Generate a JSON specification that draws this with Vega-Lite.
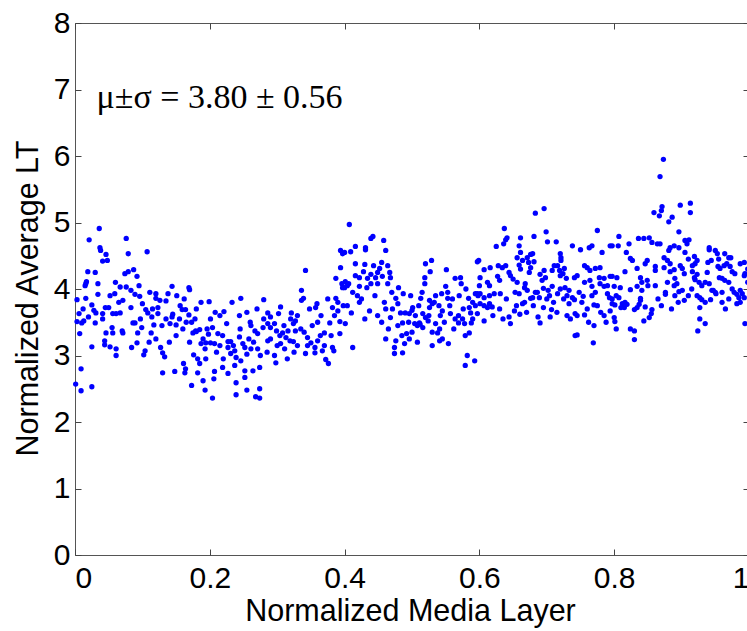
{
"$schema": "https://vega.github.io/schema/vega-lite/v6.json",
"width": 674, "height": 532,
"autosize": {"type": "none"},
"padding": {"left": 75, "top": 23, "right": 0, "bottom": 76},
"background": "white",
"config": {
  "view": {"stroke": "#555", "strokeWidth": 1},
  "axis": {"grid": false, "domain": false, "tickColor": "#444", "tickSize": -6, "tickWidth": 1,
           "labelFont": "Liberation Sans", "labelFontSize": 30, "labelColor": "#000",
           "titleFont": "Liberation Sans", "titleFontSize": 30.5, "titleColor": "#000", "titleFontWeight": "normal"}
},
"data": {"values": [
{"x":0.036,"y":4.91},{"x":0.021,"y":4.74},{"x":0.037,"y":4.62},{"x":0.038,"y":4.58},{"x":0.046,"y":4.52},{"x":0.041,"y":4.42},{"x":0.048,"y":4.43},{"x":0.076,"y":4.76},{"x":0.079,"y":4.53},{"x":0.107,"y":4.56},
{"x":0.019,"y":4.26},{"x":0.03,"y":4.25},{"x":0.016,"y":4.08},{"x":0.017,"y":4.11},{"x":0.015,"y":4.05},{"x":0.034,"y":4.08},{"x":0.074,"y":4.23},{"x":0.079,"y":4.26},{"x":0.087,"y":4.29},{"x":0.092,"y":4.19},
{"x":0.095,"y":4.05},{"x":0.067,"y":4.03},{"x":0.076,"y":4.03},{"x":0.034,"y":3.92},{"x":0.052,"y":3.9},{"x":0.059,"y":3.93},{"x":0.003,"y":3.84},{"x":0.016,"y":3.86},{"x":0.071,"y":3.83},{"x":0.083,"y":3.98},
{"x":0.089,"y":3.92},{"x":0.096,"y":3.89},{"x":0.111,"y":3.95},{"x":0.12,"y":3.93},{"x":0.12,"y":3.86},{"x":0.126,"y":3.83},{"x":0.138,"y":3.93},{"x":0.144,"y":4.04},{"x":0.151,"y":3.9},{"x":0.169,"y":4.02},
{"x":0.17,"y":3.99},{"x":0.187,"y":3.8},{"x":0.025,"y":3.76},{"x":0.006,"y":3.63},{"x":0.007,"y":3.33},{"x":0.003,"y":3.51},{"x":0.01,"y":3.49},{"x":0.013,"y":3.52},{"x":0.031,"y":3.64},{"x":0.03,"y":3.49},
{"x":0.041,"y":3.63},{"x":0.041,"y":3.55},{"x":0.05,"y":3.72},{"x":0.056,"y":3.63},{"x":0.061,"y":3.63},{"x":0.067,"y":3.64},{"x":0.083,"y":3.72},{"x":0.086,"y":3.49},{"x":0.089,"y":3.49},{"x":0.105,"y":3.69},
{"x":0.108,"y":3.64},{"x":0.114,"y":3.58},{"x":0.123,"y":3.72},{"x":0.123,"y":3.63},{"x":0.117,"y":3.46},{"x":0.129,"y":3.45},{"x":0.141,"y":3.48},{"x":0.144,"y":3.58},{"x":0.15,"y":3.46},{"x":0.156,"y":3.75},
{"x":0.159,"y":3.69},{"x":0.164,"y":3.69},{"x":0.169,"y":3.61},{"x":0.175,"y":3.34},{"x":0.179,"y":3.37},{"x":0.185,"y":3.39},{"x":0.187,"y":3.18},{"x":0.194,"y":3.19},{"x":0.193,"y":3.1},{"x":0.046,"y":3.34},
{"x":0.044,"y":3.22},{"x":0.044,"y":3.16},{"x":0.055,"y":3.42},{"x":0.056,"y":3.34},{"x":0.07,"y":3.37},{"x":0.071,"y":3.34},{"x":0.093,"y":3.34},{"x":0.099,"y":3.42},{"x":0.113,"y":3.34},{"x":0.127,"y":3.12},
{"x":0.13,"y":3.04},{"x":0.133,"y":2.98},{"x":0.104,"y":3.07},{"x":0.102,"y":3.01},{"x":0.092,"y":3.19},{"x":0.084,"y":3.12},{"x":0.052,"y":3.13},{"x":0.061,"y":3.1},{"x":0.061,"y":3.0},{"x":0.025,"y":3.13},
{"x":0.009,"y":2.8},{"x":0.001,"y":2.57},{"x":0.009,"y":2.47},{"x":0.025,"y":2.53},{"x":0.13,"y":2.74},{"x":0.148,"y":2.76},{"x":0.161,"y":2.88},{"x":0.164,"y":2.8},{"x":0.163,"y":2.74},{"x":0.176,"y":3.01},
{"x":0.182,"y":2.95},{"x":0.185,"y":2.88},{"x":0.173,"y":2.55},{"x":0.182,"y":2.74},{"x":0.193,"y":2.48},{"x":0.19,"y":2.62},{"x":0.194,"y":2.95},{"x":0.173,"y":3.5},{"x":0.18,"y":3.36},{"x":0.19,"y":3.25},
{"x":0.135,"y":3.55},{"x":0.145,"y":3.62},{"x":0.155,"y":3.55},{"x":0.165,"y":3.5},{"x":0.178,"y":3.55},{"x":0.16,"y":3.4},{"x":0.15,"y":3.3},{"x":0.14,"y":3.2},{"x":0.17,"y":3.2},{"x":0.196,"y":3.4},
{"x":0.198,"y":3.32},{"x":0.12,"y":3.25},{"x":0.11,"y":3.2},{"x":0.097,"y":3.55},{"x":0.065,"y":3.8},{"x":0.045,"y":3.72},{"x":0.02,"y":3.58},{"x":0.028,"y":3.68},{"x":0.012,"y":3.7},{"x":0.06,"y":4.1},
{"x":0.1,"y":3.78},{"x":0.115,"y":3.7},{"x":0.135,"y":3.82},{"x":0.162,"y":3.85},{"x":0.18,"y":3.7},
{"x":0.394,"y":4.58},{"x":0.397,"y":4.53},{"x":0.342,"y":4.28},{"x":0.394,"y":4.32},{"x":0.387,"y":4.16},{"x":0.396,"y":4.08},{"x":0.397,"y":4.02},{"x":0.336,"y":3.98},{"x":0.336,"y":3.83},{"x":0.339,"y":3.86},
{"x":0.387,"y":3.86},{"x":0.39,"y":3.8},{"x":0.382,"y":3.72},{"x":0.39,"y":3.67},{"x":0.359,"y":3.78},{"x":0.357,"y":3.72},{"x":0.348,"y":3.7},{"x":0.33,"y":3.6},{"x":0.327,"y":3.52},{"x":0.324,"y":3.48},
{"x":0.246,"y":3.86},{"x":0.233,"y":3.8},{"x":0.28,"y":3.84},{"x":0.199,"y":3.81},{"x":0.215,"y":3.6},{"x":0.221,"y":3.66},{"x":0.244,"y":3.6},{"x":0.286,"y":3.64},{"x":0.29,"y":3.58},{"x":0.302,"y":3.63},
{"x":0.305,"y":3.73},{"x":0.321,"y":3.64},{"x":0.201,"y":3.55},{"x":0.261,"y":3.45},{"x":0.28,"y":3.55},{"x":0.204,"y":3.42},{"x":0.212,"y":3.33},{"x":0.219,"y":3.3},{"x":0.227,"y":3.21},{"x":0.231,"y":3.21},
{"x":0.201,"y":3.19},{"x":0.207,"y":3.18},{"x":0.215,"y":3.15},{"x":0.244,"y":3.28},{"x":0.249,"y":3.18},{"x":0.258,"y":3.25},{"x":0.267,"y":3.37},{"x":0.271,"y":3.33},{"x":0.279,"y":3.42},{"x":0.286,"y":3.48},
{"x":0.29,"y":3.42},{"x":0.296,"y":3.48},{"x":0.299,"y":3.37},{"x":0.304,"y":3.3},{"x":0.308,"y":3.34},{"x":0.316,"y":3.37},{"x":0.313,"y":3.27},{"x":0.319,"y":3.22},{"x":0.324,"y":3.21},{"x":0.327,"y":3.37},
{"x":0.286,"y":3.22},{"x":0.29,"y":3.25},{"x":0.305,"y":3.18},{"x":0.311,"y":3.1},{"x":0.345,"y":3.27},{"x":0.345,"y":3.15},{"x":0.35,"y":3.19},{"x":0.356,"y":3.12},{"x":0.356,"y":3.04},{"x":0.342,"y":3.03},
{"x":0.364,"y":3.3},{"x":0.367,"y":3.07},{"x":0.37,"y":3.34},{"x":0.378,"y":3.49},{"x":0.382,"y":3.12},{"x":0.384,"y":3.07},{"x":0.372,"y":2.94},{"x":0.376,"y":2.88},{"x":0.393,"y":3.51},{"x":0.393,"y":3.33},
{"x":0.227,"y":3.12},{"x":0.231,"y":3.03},{"x":0.237,"y":3.07},{"x":0.239,"y":2.97},{"x":0.246,"y":2.92},{"x":0.252,"y":3.12},{"x":0.261,"y":3.1},{"x":0.271,"y":3.1},{"x":0.296,"y":3.0},{"x":0.298,"y":2.89},
{"x":0.207,"y":2.76},{"x":0.206,"y":2.65},{"x":0.219,"y":2.82},{"x":0.227,"y":2.73},{"x":0.237,"y":2.85},{"x":0.252,"y":2.77},{"x":0.252,"y":2.67},{"x":0.264,"y":2.77},{"x":0.274,"y":2.82},{"x":0.239,"y":2.59},
{"x":0.255,"y":2.48},{"x":0.274,"y":2.5},{"x":0.204,"y":2.36},{"x":0.239,"y":2.41},{"x":0.268,"y":2.38},{"x":0.274,"y":2.36},
{"x":0.21,"y":3.05},{"x":0.22,"y":2.95},{"x":0.235,"y":3.15},{"x":0.255,"y":3.02},{"x":0.265,"y":3.2},{"x":0.275,"y":3.0},{"x":0.285,"y":3.05},{"x":0.3,"y":3.15},{"x":0.31,"y":3.45},{"x":0.32,"y":3.55},
{"x":0.335,"y":3.4},{"x":0.34,"y":3.35},{"x":0.352,"y":3.45},{"x":0.36,"y":3.5},{"x":0.365,"y":3.6},{"x":0.375,"y":3.85},{"x":0.385,"y":3.6},{"x":0.398,"y":3.75},{"x":0.33,"y":3.15},{"x":0.315,"y":2.95},
{"x":0.325,"y":3.05},{"x":0.36,"y":3.22},{"x":0.37,"y":3.15},{"x":0.38,"y":3.3},{"x":0.26,"y":3.5},{"x":0.245,"y":3.4},{"x":0.225,"y":3.48},{"x":0.208,"y":3.65},{"x":0.255,"y":3.65},{"x":0.27,"y":3.7},
{"x":0.407,"y":4.97},{"x":0.439,"y":4.76},{"x":0.442,"y":4.79},{"x":0.458,"y":4.73},{"x":0.416,"y":4.64},{"x":0.431,"y":4.62},{"x":0.431,"y":4.59},{"x":0.461,"y":4.58},{"x":0.4,"y":4.55},{"x":0.409,"y":4.56},
{"x":0.416,"y":4.38},{"x":0.43,"y":4.37},{"x":0.443,"y":4.35},{"x":0.455,"y":4.4},{"x":0.464,"y":4.35},{"x":0.428,"y":4.26},{"x":0.439,"y":4.22},{"x":0.449,"y":4.25},{"x":0.452,"y":4.31},{"x":0.467,"y":4.25},
{"x":0.468,"y":4.17},{"x":0.416,"y":4.2},{"x":0.422,"y":4.17},{"x":0.434,"y":4.16},{"x":0.446,"y":4.17},{"x":0.456,"y":4.19},{"x":0.401,"y":4.11},{"x":0.404,"y":4.05},{"x":0.4,"y":4.02},{"x":0.406,"y":4.08},
{"x":0.422,"y":4.04},{"x":0.433,"y":4.02},{"x":0.439,"y":4.08},{"x":0.449,"y":4.08},{"x":0.464,"y":4.08},{"x":0.412,"y":3.95},{"x":0.419,"y":3.9},{"x":0.422,"y":3.8},{"x":0.404,"y":3.75},{"x":0.41,"y":3.64},
{"x":0.401,"y":3.48},{"x":0.437,"y":3.67},{"x":0.449,"y":3.6},{"x":0.459,"y":3.8},{"x":0.461,"y":3.7},{"x":0.471,"y":3.7},{"x":0.479,"y":3.78},{"x":0.48,"y":4.02},{"x":0.487,"y":3.93},{"x":0.476,"y":3.86},
{"x":0.468,"y":3.57},{"x":0.479,"y":3.45},{"x":0.486,"y":3.49},{"x":0.483,"y":3.64},{"x":0.49,"y":3.64},{"x":0.496,"y":3.63},{"x":0.501,"y":3.72},{"x":0.498,"y":3.9},{"x":0.504,"y":3.48},{"x":0.508,"y":3.45},
{"x":0.511,"y":3.49},{"x":0.513,"y":3.86},{"x":0.492,"y":3.33},{"x":0.496,"y":3.25},{"x":0.508,"y":3.2},{"x":0.5,"y":3.68},{"x":0.516,"y":3.63},{"x":0.52,"y":3.57},{"x":0.526,"y":3.72},{"x":0.526,"y":3.83},
{"x":0.53,"y":3.78},{"x":0.533,"y":3.8},{"x":0.519,"y":4.08},{"x":0.52,"y":4.38},{"x":0.529,"y":4.43},{"x":0.527,"y":4.26},{"x":0.519,"y":4.17},{"x":0.512,"y":3.47},{"x":0.516,"y":3.42},{"x":0.524,"y":3.52},
{"x":0.535,"y":3.48},{"x":0.541,"y":3.4},{"x":0.538,"y":3.34},{"x":0.461,"y":3.25},{"x":0.476,"y":3.22},{"x":0.474,"y":3.12},{"x":0.474,"y":3.03},{"x":0.486,"y":3.04},{"x":0.489,"y":3.18},{"x":0.412,"y":3.12},
{"x":0.541,"y":3.22},{"x":0.554,"y":3.18},{"x":0.542,"y":3.6},{"x":0.545,"y":3.67},{"x":0.544,"y":3.93},{"x":0.55,"y":4.04},{"x":0.551,"y":4.29},{"x":0.553,"y":3.95},{"x":0.553,"y":3.86},{"x":0.564,"y":4.16},
{"x":0.569,"y":3.6},{"x":0.572,"y":4.17},{"x":0.573,"y":4.08},{"x":0.557,"y":3.63},{"x":0.564,"y":3.55},{"x":0.569,"y":3.49},{"x":0.575,"y":3.55},{"x":0.578,"y":3.48},{"x":0.584,"y":3.86},{"x":0.585,"y":3.72},
{"x":0.587,"y":3.64},{"x":0.588,"y":3.49},{"x":0.585,"y":3.34},{"x":0.579,"y":3.3},{"x":0.582,"y":3.0},{"x":0.593,"y":2.92},{"x":0.579,"y":2.85},{"x":0.597,"y":4.41},{"x":0.594,"y":3.93},{"x":0.594,"y":3.75},
{"x":0.597,"y":3.63},{"x":0.425,"y":3.85},{"x":0.43,"y":3.55},{"x":0.445,"y":3.9},{"x":0.455,"y":3.5},{"x":0.465,"y":3.4},{"x":0.47,"y":3.95},{"x":0.485,"y":3.3},{"x":0.495,"y":3.5},{"x":0.505,"y":3.6},
{"x":0.51,"y":3.75},{"x":0.515,"y":3.95},{"x":0.525,"y":3.6},{"x":0.53,"y":3.35},{"x":0.535,"y":3.9},{"x":0.54,"y":3.75},{"x":0.548,"y":3.5},{"x":0.556,"y":3.75},{"x":0.56,"y":3.85},{"x":0.562,"y":3.4},
{"x":0.57,"y":3.9},{"x":0.576,"y":3.7},{"x":0.58,"y":4.0},{"x":0.59,"y":3.8},{"x":0.598,"y":3.9},{"x":0.59,"y":3.55},{"x":0.545,"y":3.25},{"x":0.53,"y":3.15},{"x":0.5,"y":3.35},
{"x":0.683,"y":5.14},{"x":0.696,"y":5.21},{"x":0.637,"y":4.91},{"x":0.775,"y":4.88},{"x":0.699,"y":4.86},{"x":0.641,"y":4.77},{"x":0.639,"y":4.74},{"x":0.636,"y":4.68},{"x":0.625,"y":4.64},{"x":0.661,"y":4.77},
{"x":0.681,"y":4.79},{"x":0.701,"y":4.71},{"x":0.714,"y":4.71},{"x":0.659,"y":4.65},{"x":0.738,"y":4.65},{"x":0.75,"y":4.59},{"x":0.763,"y":4.62},{"x":0.767,"y":4.65},{"x":0.782,"y":4.55},{"x":0.794,"y":4.65},
{"x":0.661,"y":4.55},{"x":0.656,"y":4.47},{"x":0.664,"y":4.43},{"x":0.676,"y":4.52},{"x":0.671,"y":4.47},{"x":0.679,"y":4.53},{"x":0.72,"y":4.53},{"x":0.721,"y":4.47},{"x":0.721,"y":4.43},{"x":0.673,"y":4.4},
{"x":0.676,"y":4.32},{"x":0.674,"y":4.25},{"x":0.681,"y":4.41},{"x":0.599,"y":4.43},{"x":0.607,"y":4.29},{"x":0.616,"y":4.32},{"x":0.628,"y":4.35},{"x":0.634,"y":4.32},{"x":0.639,"y":4.35},{"x":0.644,"y":4.25},
{"x":0.646,"y":4.2},{"x":0.65,"y":4.15},{"x":0.656,"y":4.1},{"x":0.659,"y":4.36},{"x":0.661,"y":4.3},{"x":0.711,"y":4.35},{"x":0.708,"y":4.28},{"x":0.716,"y":4.35},{"x":0.696,"y":4.28},{"x":0.698,"y":4.17},
{"x":0.693,"y":4.13},{"x":0.69,"y":4.22},{"x":0.719,"y":4.28},{"x":0.724,"y":4.23},{"x":0.726,"y":4.31},{"x":0.729,"y":4.16},{"x":0.72,"y":4.2},{"x":0.741,"y":4.17},{"x":0.745,"y":4.2},{"x":0.756,"y":4.35},
{"x":0.76,"y":4.32},{"x":0.764,"y":4.28},{"x":0.772,"y":4.31},{"x":0.779,"y":4.32},{"x":0.756,"y":4.1},{"x":0.764,"y":4.13},{"x":0.767,"y":4.04},{"x":0.778,"y":4.17},{"x":0.779,"y":4.08},{"x":0.785,"y":4.16},
{"x":0.79,"y":4.05},{"x":0.794,"y":4.19},{"x":0.601,"y":4.17},{"x":0.612,"y":4.1},{"x":0.627,"y":4.19},{"x":0.63,"y":4.13},{"x":0.597,"y":3.93},{"x":0.601,"y":3.93},{"x":0.607,"y":3.87},{"x":0.615,"y":3.9},
{"x":0.622,"y":3.93},{"x":0.631,"y":3.93},{"x":0.601,"y":3.78},{"x":0.607,"y":3.75},{"x":0.615,"y":3.78},{"x":0.619,"y":3.73},{"x":0.612,"y":3.72},{"x":0.607,"y":3.52},{"x":0.644,"y":3.58},{"x":0.646,"y":3.48},
{"x":0.652,"y":3.67},{"x":0.653,"y":3.95},{"x":0.659,"y":3.93},{"x":0.667,"y":4.02},{"x":0.668,"y":4.08},{"x":0.671,"y":3.98},{"x":0.664,"y":3.78},{"x":0.667,"y":3.8},{"x":0.676,"y":3.86},{"x":0.679,"y":3.87},
{"x":0.689,"y":3.87},{"x":0.687,"y":3.58},{"x":0.69,"y":3.49},{"x":0.683,"y":3.95},{"x":0.686,"y":3.95},{"x":0.695,"y":4.01},{"x":0.702,"y":3.98},{"x":0.704,"y":3.9},{"x":0.708,"y":4.04},{"x":0.716,"y":3.93},
{"x":0.707,"y":3.69},{"x":0.705,"y":3.58},{"x":0.727,"y":4.02},{"x":0.733,"y":3.98},{"x":0.73,"y":3.9},{"x":0.733,"y":3.78},{"x":0.738,"y":3.87},{"x":0.741,"y":3.84},{"x":0.73,"y":3.6},{"x":0.742,"y":3.63},
{"x":0.745,"y":3.6},{"x":0.756,"y":3.61},{"x":0.76,"y":3.7},{"x":0.77,"y":3.76},{"x":0.754,"y":3.89},{"x":0.767,"y":3.9},{"x":0.772,"y":3.95},{"x":0.785,"y":4.04},{"x":0.79,"y":3.93},{"x":0.793,"y":3.87},
{"x":0.785,"y":3.6},{"x":0.794,"y":3.67},{"x":0.742,"y":3.3},{"x":0.745,"y":3.31},{"x":0.77,"y":3.45},{"x":0.769,"y":3.19},
{"x":0.62,"y":3.6},{"x":0.63,"y":3.7},{"x":0.64,"y":3.85},{"x":0.655,"y":3.75},{"x":0.67,"y":3.65},{"x":0.68,"y":3.75},{"x":0.695,"y":3.72},{"x":0.7,"y":3.85},{"x":0.71,"y":3.8},{"x":0.715,"y":3.65},
{"x":0.72,"y":4.0},{"x":0.725,"y":3.85},{"x":0.735,"y":3.55},{"x":0.748,"y":3.95},{"x":0.752,"y":3.8},{"x":0.762,"y":3.5},{"x":0.775,"y":3.75},{"x":0.78,"y":3.65},{"x":0.788,"y":3.5},{"x":0.797,"y":3.85},
{"x":0.635,"y":3.55},{"x":0.66,"y":3.62},{"x":0.6,"y":4.05},{"x":0.615,"y":4.05},
{"x":0.873,"y":5.95},{"x":0.868,"y":5.69},{"x":0.871,"y":5.24},{"x":0.87,"y":5.18},{"x":0.859,"y":5.15},{"x":0.867,"y":5.1},{"x":0.898,"y":5.26},{"x":0.913,"y":5.29},{"x":0.913,"y":5.15},{"x":0.886,"y":5.08},
{"x":0.881,"y":5.01},{"x":0.896,"y":4.86},{"x":0.807,"y":4.79},{"x":0.797,"y":4.65},{"x":0.806,"y":4.65},{"x":0.822,"y":4.68},{"x":0.836,"y":4.76},{"x":0.844,"y":4.76},{"x":0.852,"y":4.77},{"x":0.856,"y":4.7},
{"x":0.864,"y":4.68},{"x":0.868,"y":4.68},{"x":0.883,"y":4.62},{"x":0.889,"y":4.65},{"x":0.896,"y":4.62},{"x":0.905,"y":4.73},{"x":0.908,"y":4.68},{"x":0.911,"y":4.74},{"x":0.881,"y":4.58},{"x":0.905,"y":4.55},
{"x":0.919,"y":4.49},{"x":0.941,"y":4.62},{"x":0.941,"y":4.59},{"x":0.95,"y":4.58},{"x":0.953,"y":4.53},{"x":0.964,"y":4.53},{"x":0.97,"y":4.47},{"x":0.973,"y":4.47},{"x":0.818,"y":4.55},{"x":0.824,"y":4.46},
{"x":0.827,"y":4.43},{"x":0.849,"y":4.43},{"x":0.846,"y":4.38},{"x":0.874,"y":4.47},{"x":0.879,"y":4.43},{"x":0.883,"y":4.38},{"x":0.944,"y":4.43},{"x":0.939,"y":4.4},{"x":0.916,"y":4.35},{"x":0.92,"y":4.38},
{"x":0.923,"y":4.43},{"x":0.797,"y":4.19},{"x":0.804,"y":4.17},{"x":0.816,"y":4.26},{"x":0.834,"y":4.31},{"x":0.861,"y":4.34},{"x":0.861,"y":4.28},{"x":0.874,"y":4.32},{"x":0.883,"y":4.26},{"x":0.889,"y":4.29},
{"x":0.898,"y":4.35},{"x":0.901,"y":4.31},{"x":0.904,"y":4.23},{"x":0.916,"y":4.26},{"x":0.919,"y":4.17},{"x":0.92,"y":4.14},{"x":0.923,"y":4.22},{"x":0.938,"y":4.25},{"x":0.935,"y":4.1},{"x":0.941,"y":4.08},
{"x":0.954,"y":4.34},{"x":0.957,"y":4.31},{"x":0.963,"y":4.35},{"x":0.967,"y":4.38},{"x":0.972,"y":4.34},{"x":0.975,"y":4.26},{"x":0.979,"y":4.23},{"x":0.956,"y":4.17},{"x":0.96,"y":4.16},{"x":0.964,"y":4.13},
{"x":0.97,"y":4.1},{"x":0.987,"y":4.38},{"x":0.993,"y":4.4},{"x":0.993,"y":4.2},{"x":0.994,"y":4.23},{"x":0.839,"y":4.17},{"x":0.841,"y":4.1},{"x":0.849,"y":4.13},{"x":0.85,"y":4.05},{"x":0.861,"y":4.05},
{"x":0.879,"y":4.1},{"x":0.89,"y":4.16},{"x":0.893,"y":4.08},{"x":0.889,"y":4.05},{"x":0.8,"y":4.04},{"x":0.809,"y":4.02},{"x":0.824,"y":3.99},{"x":0.834,"y":4.04},{"x":0.841,"y":3.98},{"x":0.876,"y":3.95},
{"x":0.876,"y":3.92},{"x":0.89,"y":3.9},{"x":0.896,"y":3.96},{"x":0.901,"y":3.98},{"x":0.926,"y":4.1},{"x":0.93,"y":4.05},{"x":0.945,"y":3.98},{"x":0.95,"y":3.95},{"x":0.96,"y":3.95},{"x":0.975,"y":4.0},
{"x":0.978,"y":3.95},{"x":0.982,"y":3.92},{"x":0.985,"y":3.87},{"x":0.987,"y":3.98},{"x":0.99,"y":3.93},{"x":0.993,"y":3.87},{"x":0.987,"y":3.8},{"x":0.982,"y":3.78},{"x":0.803,"y":3.9},{"x":0.807,"y":3.87},
{"x":0.797,"y":3.78},{"x":0.801,"y":3.76},{"x":0.812,"y":3.78},{"x":0.816,"y":3.8},{"x":0.819,"y":3.77},{"x":0.815,"y":3.72},{"x":0.81,"y":3.72},{"x":0.83,"y":3.69},{"x":0.834,"y":3.72},{"x":0.837,"y":3.77},
{"x":0.846,"y":3.73},{"x":0.839,"y":3.83},{"x":0.839,"y":3.86},{"x":0.856,"y":3.69},{"x":0.855,"y":3.63},{"x":0.852,"y":3.57},{"x":0.844,"y":3.52},{"x":0.8,"y":3.57},{"x":0.801,"y":3.51},{"x":0.803,"y":3.4},
{"x":0.824,"y":3.4},{"x":0.83,"y":3.37},{"x":0.83,"y":3.24},{"x":0.923,"y":3.9},{"x":0.927,"y":3.87},{"x":0.93,"y":3.84},{"x":0.935,"y":3.8},{"x":0.927,"y":3.72},{"x":0.927,"y":3.55},{"x":0.935,"y":3.48},
{"x":0.924,"y":3.37},{"x":0.943,"y":3.84},{"x":0.947,"y":3.98},{"x":0.951,"y":3.93},{"x":0.994,"y":3.48},{"x":0.904,"y":3.83},
{"x":0.865,"y":3.85},{"x":0.87,"y":3.75},{"x":0.885,"y":3.7},{"x":0.895,"y":3.8},{"x":0.91,"y":3.9},{"x":0.915,"y":4.0},{"x":0.96,"y":3.8},{"x":0.965,"y":3.7},{"x":0.97,"y":3.85},{"x":0.998,"y":4.3},
{"x":0.998,"y":4.1},{"x":0.91,"y":4.45},{"x":0.955,"y":4.45}
]},
"layer": [
  {
    "mark": {"type": "point", "shape": "circle", "filled": true, "size": 28, "color": "#0000ff", "opacity": 1},
    "encoding": {
      "x": {"field": "x", "type": "quantitative", "scale": {"domain": [0, 1], "nice": false},
            "axis": {"orient": "bottom", "values": [0, 0.2, 0.4, 0.6, 0.8, 1], "format": "~g", "labelPadding": 14,
                     "title": "Normalized Media Layer", "titleX": 335, "titleY": 65, "titleBaseline": "alphabetic", "titleAnchor": "middle"}},
      "y": {"field": "y", "type": "quantitative", "scale": {"domain": [0, 8], "nice": false},
            "axis": {"orient": "left", "values": [0, 1, 2, 3, 4, 5, 6, 7, 8], "format": "d", "labelPadding": 11,
                     "title": "Normalized Average LT", "titleX": -38, "titleY": 275, "titleBaseline": "alphabetic", "titleAngle": -90, "titleAlign": "center"}}
    }
  },
  {
    "mark": {"type": "point", "opacity": 0},
    "encoding": {
      "x": {"field": "x", "type": "quantitative", "axis": {"orient": "top", "values": [0, 0.2, 0.4, 0.6, 0.8, 1], "labels": false, "title": null}},
      "y": {"field": "y", "type": "quantitative", "axis": {"orient": "right", "values": [0, 1, 2, 3, 4, 5, 6, 7, 8], "labels": false, "title": null}}
    }
  },
  {
    "data": {"values": [{}]},
    "mark": {"type": "text", "font": "Liberation Serif", "fontSize": 34, "align": "left", "baseline": "alphabetic", "color": "#000"},
    "encoding": {
      "x": {"datum": 0.032, "type": "quantitative", "axis": null},
      "y": {"datum": 6.72, "type": "quantitative", "axis": null},
      "text": {"value": "μ±σ = 3.80 ± 0.56"}
    }
  }
],
"resolve": {"axis": {"x": "independent", "y": "independent"}}
}
